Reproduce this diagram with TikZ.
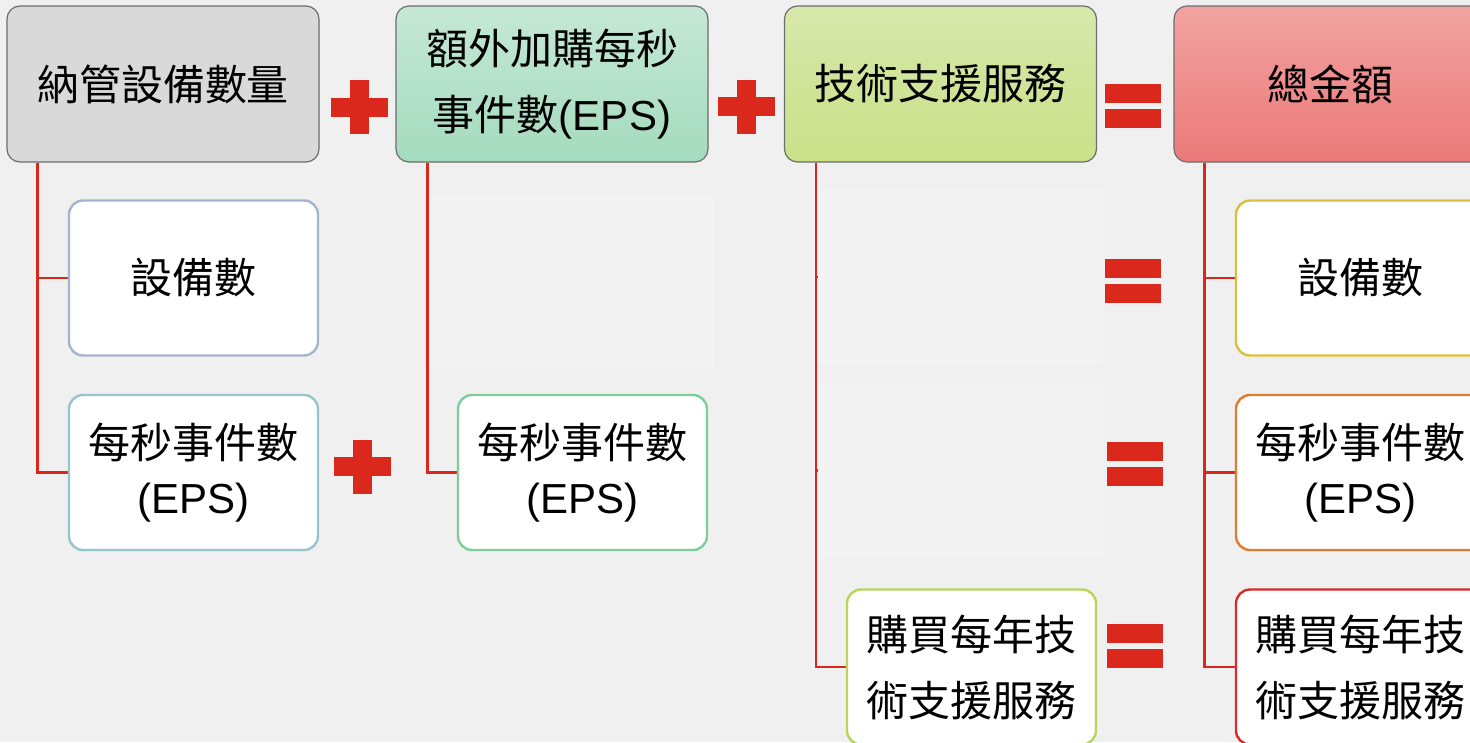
\documentclass[tikz,border=0pt]{standalone}
\usepackage{fontspec}
\newfontfamily\cjk{Noto Sans CJK TC}
\newfontfamily\lat{Liberation Sans}
\newcommand\boxfont{\cjk\fontsize{42}{66}\selectfont}
\definecolor{bgcol}{HTML}{F0F0F0}
\definecolor{ghostfill}{HTML}{F3F3F3}
\definecolor{topborder}{HTML}{6D6D6D}
\definecolor{grayfill}{HTML}{D9D9D9}
\definecolor{greentop}{HTML}{C5E8D5}
\definecolor{greenbot}{HTML}{A4DBBE}
\definecolor{limetop}{HTML}{D7E8AB}
\definecolor{limebot}{HTML}{CAE088}
\definecolor{pinktop}{HTML}{F2A3A1}
\definecolor{pinkbot}{HTML}{EB7979}
\definecolor{symred}{HTML}{DA291C}
\definecolor{linered}{HTML}{D9271E}
\definecolor{bA}{HTML}{A5B4CD}
\definecolor{bB}{HTML}{97C4CE}
\definecolor{bC}{HTML}{7ECD9B}
\definecolor{bD}{HTML}{B6D65B}
\definecolor{bE}{HTML}{DBC03E}
\definecolor{bF}{HTML}{E27B30}
\definecolor{bG}{HTML}{D92B2B}
\tikzset{
  topbox/.style={draw=topborder, line width=1.2pt, rounded corners=13pt,
    minimum width=312pt, minimum height=156pt, inner sep=0pt, align=center,
    font=\boxfont, text=black},
  childbox/.style={fill=white, line width=2.4pt, rounded corners=14pt,
    minimum width=249pt, minimum height=155pt, inner sep=0pt, align=center,
    font=\boxfont, text=black},
  ghost/.style={fill=ghostfill, minimum width=285pt, minimum height=174pt, inner sep=0pt},
  conn/.style={draw=linered, line width=2.4pt},
  plussign/.pic={\fill[symred] (-28.5,-9.5) rectangle (28.5,9.5);
                 \fill[symred] (-9.5,-27) rectangle (9.5,27);},
  equalsign/.pic={\fill[symred] (-28,-22) rectangle (28,-3);
                  \fill[symred] (-28,3) rectangle (28,22);}
}
\begin{document}
\begin{tikzpicture}[x=1pt,y=-1pt]
\useasboundingbox (0,0) rectangle (1470,742);
\begin{scope}
\clip (0,0) rectangle (1470,742);
\fill[bgcol] (0,0) rectangle (1470,742);

% ghost (faded) nodes
\node[ghost] (g21) at (571.5,281) {};
\node[ghost] (g31) at (960.5,277) {};
\node[ghost] (g32) at (960.5,470.5) {};

% top boxes
\node[topbox, fill=grayfill] (t1) at (163,84) {納管設備數量};
\node[topbox, top color=greentop, bottom color=greenbot] (t2) at (552,84) {額外加購每秒\\事件數{\lat (EPS)}};
\node[topbox, top color=limetop, bottom color=limebot] (t3) at (940.5,84) {技術支援服務};
\node[topbox, top color=pinktop, bottom color=pinkbot] (t4) at (1330,84) {總金額};

% connectors
\draw[conn] ([xshift=31pt]t1.south west) |- (193.5,278) coordinate (e11);
\draw[conn] ([xshift=31pt]t1.south west) |- (193.5,472.5) coordinate (e12);
\draw[conn] ([xshift=32pt]t2.south west) |- (g21.west);
\draw[conn] ([xshift=32pt]t2.south west) |- (582.5,472.5) coordinate (e22);
\draw[conn] ([xshift=32pt]t3.south west) |- (g31.west);
\draw[conn] ([xshift=32pt]t3.south west) |- (g32.west);
\draw[conn] ([xshift=32pt]t3.south west) |- (971.5,667) coordinate (e33);
\draw[conn] ([xshift=31pt]t4.south west) |- (1360.5,278) coordinate (e41);
\draw[conn] ([xshift=31pt]t4.south west) |- (1360.5,472.5) coordinate (e42);
\draw[conn] ([xshift=31pt]t4.south west) |- (1360.5,667) coordinate (e43);

% child boxes
\node[childbox, draw=bA] (c11) at (e11) {設備數};
\node[childbox, draw=bB] (c12) at (e12) {每秒事件數\\[-11pt]{\lat (EPS)}};
\node[childbox, draw=bC] (c22) at (e22) {每秒事件數\\[-11pt]{\lat (EPS)}};
\node[childbox, draw=bD] (c33) at (e33) {購買每年技\\術支援服務};
\node[childbox, draw=bE] (c41) at (e41) {設備數};
\node[childbox, draw=bF] (c42) at (e42) {每秒事件數\\[-11pt]{\lat (EPS)}};
\node[childbox, draw=bG] (c43) at (e43) {購買每年技\\術支援服務};

% operators
\pic at (359,107) {plussign};
\pic at (746,106.5) {plussign};
\pic at (362,466.5) {plussign};
\pic at (1133,106) {equalsign};
\pic at (1133,281) {equalsign};
\pic at (1135,463.5) {equalsign};
\pic at (1135,645.5) {equalsign};
\end{scope}
\end{tikzpicture}
\end{document}
